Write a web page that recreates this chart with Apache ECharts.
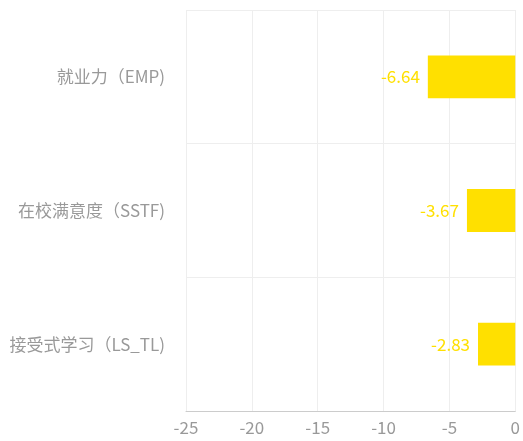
<!DOCTYPE html>
<html><head><meta charset="utf-8">
<script src="https://cdn.jsdelivr.net/npm/echarts@6/dist/echarts.min.js"></script>
<style>html,body{margin:0;padding:0;background:#fff}#c{width:523px;height:441px}</style>
</head><body><div id="c"></div>
<script>
const categories = ['就业力（EMP)', '在校满意度（SSTF)', '接受式学习（LS_TL)'];
const values = [-6.64, -3.67, -2.83];
const xMin = -25, xMax = 0, xInterval = 5;

const chart = echarts.init(document.getElementById('c'));
chart.setOption({
  animation: false,
  textStyle: { fontFamily: 'Noto Sans CJK SC' },
  grid: { left: 186, right: 6, top: 10, bottom: 30 },
  xAxis: {
    type: 'value', min: xMin, max: xMax, interval: xInterval,
    axisLine: { show: true, lineStyle: { color: '#ccc' } },
    axisTick: { show: false },
    axisLabel: { color: '#999', fontSize: 17, margin: 8 },
    splitLine: { show: true, lineStyle: { color: '#eee' } }
  },
  yAxis: {
    type: 'category', data: categories, inverse: true,
    axisLine: { show: false },
    axisTick: { show: false },
    axisLabel: { color: '#999', fontSize: 17, margin: 21 },
    splitLine: { show: true, lineStyle: { color: '#eee' } }
  },
  series: [{
    type: 'bar', data: values, barWidth: '32%',
    itemStyle: { color: '#FFE000' },
    label: { show: true, position: 'left', color: '#FFE000', fontSize: 17, distance: 8 }
  }]
});
</script></body></html>
